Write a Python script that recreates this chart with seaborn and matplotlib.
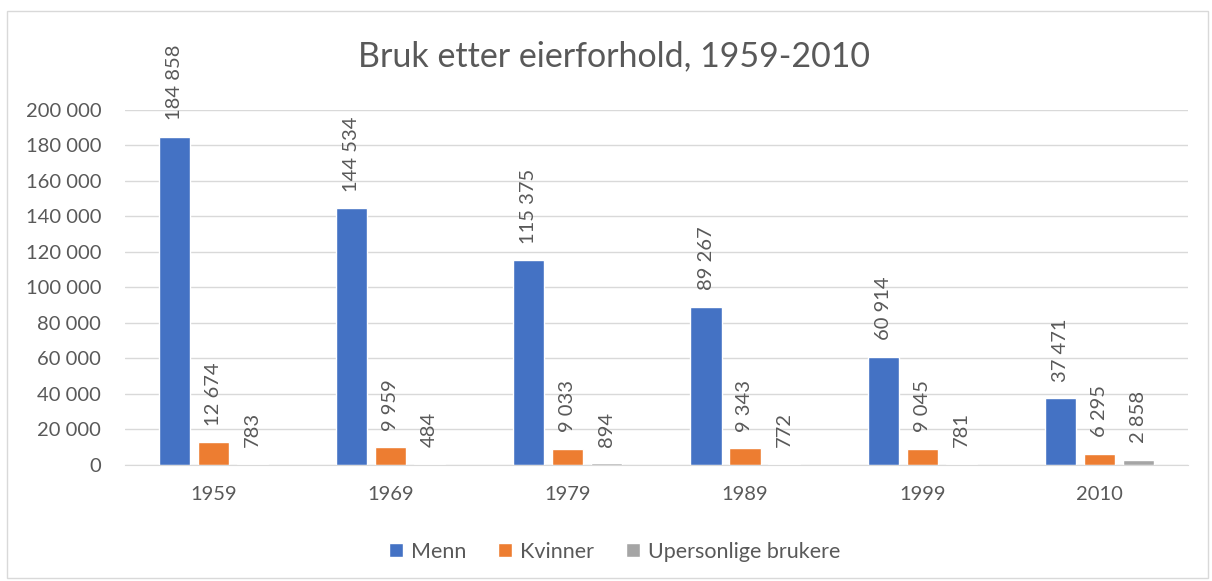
import pandas as pd
import seaborn as sns
import matplotlib.pyplot as plt
from matplotlib.patches import Rectangle

# data
years = ["1959", "1969", "1979", "1989", "1999", "2010"]
menn = [184858, 144534, 115375, 89267, 60914, 37471]
kvinner = [12674, 9959, 9033, 9343, 9045, 6295]
upersonlige = [783, 484, 894, 772, 781, 2858]
series = ["Menn", "Kvinner", "Upersonlige brukere"]
colors = ["#4472C4", "#ED7D31", "#A5A5A5"]

df = pd.DataFrame({"year": years, "Menn": menn, "Kvinner": kvinner,
                   "Upersonlige brukere": upersonlige})
long = df.melt(id_vars="year", var_name="type", value_name="value")

sns.set_style("white")
plt.rcParams["font.family"] = ["Lato", "DejaVu Sans"]
text_col = "#595959"

fig = plt.figure(figsize=(12.12, 5.81), dpi=100)
ax = fig.add_axes([0.1031, 0.1997, 0.877, 0.611])

sns.barplot(data=long, x="year", y="value", hue="type", hue_order=series,
            palette=colors, width=0.66, saturation=1, ax=ax, legend=True)

# Excel-style gap between bars in a group
for cont in ax.containers:
    for b in cont:
        w = b.get_width()
        b.set_x(b.get_x() + w * 0.1)
        b.set_width(w * 0.8)

ax.set_ylim(0, 200000)
ax.set_yticks(range(0, 200001, 20000))
ax.set_yticklabels([f"{v:,}".replace(",", " ") for v in range(0, 200001, 20000)])
ax.yaxis.grid(True, color="#d9d9d9", linewidth=1)
ax.set_axisbelow(True)
for s in ["top", "right", "left"]:
    ax.spines[s].set_visible(False)
ax.spines["bottom"].set_color("#d9d9d9")
ax.tick_params(axis="y", length=0, labelsize=14.5, labelcolor=text_col, pad=17)
ax.tick_params(axis="x", length=0, labelsize=14.5, labelcolor=text_col, pad=15)
ax.set_xlabel("")
ax.set_ylabel("")

for cont in ax.containers:
    labels = [f"{int(b.get_height()):,}".replace(",", " ") for b in cont]
    ax.bar_label(cont, labels=labels, rotation=90, padding=12, fontsize=14.5,
                 color=text_col, clip_on=False)

fig.suptitle("Bruk etter eierforhold, 1959-2010", x=0.507, y=0.93,
             fontsize=24.5, color=text_col)

ax.legend(loc="lower center", bbox_to_anchor=(0.507, 0.0),
          bbox_transform=fig.transFigure, ncol=3, frameon=False,
          fontsize=15.5, handlelength=0.65, handleheight=0.65,
          handletextpad=0.35, columnspacing=1.5, labelcolor=text_col)

fig.patches.append(Rectangle((0.0058, 0.005), 0.991, 0.976, transform=fig.transFigure,
                             fill=False, edgecolor="#d9d9d9", linewidth=1))

fig.savefig("out.png", dpi=100)
